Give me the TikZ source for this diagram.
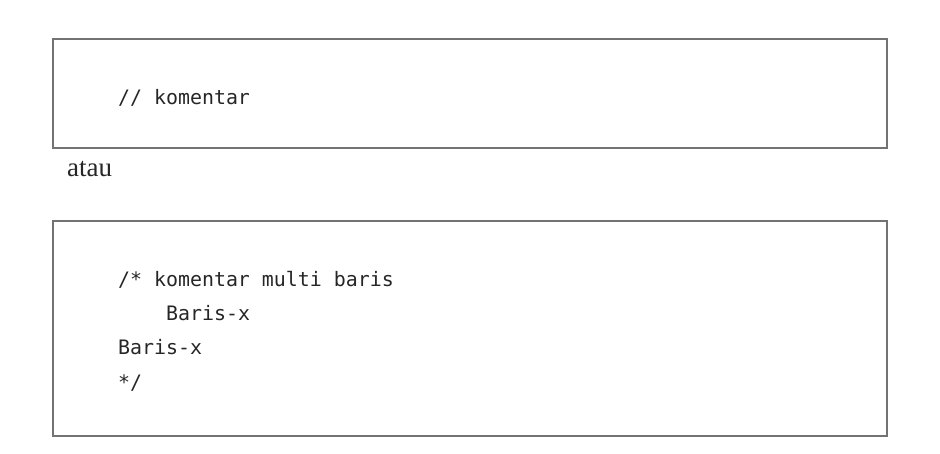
\documentclass[tikz,border=0pt]{standalone}
\usepackage{fontspec}
\setmainfont{Liberation Serif}
\newfontfamily\codefont{DejaVu Sans Mono}
\usetikzlibrary{positioning}

\begin{document}
\begin{tikzpicture}[x=1pt,y=1pt,
    codebox/.style={draw=black!55, line width=1.6pt, rectangle, inner sep=0pt, anchor=north west},
    codeline/.style={anchor=base west, inner sep=0pt, text=black!85, font=\codefont\fontsize{19.9}{24}\selectfont},
    plaintext/.style={anchor=base west, inner sep=0pt, text=black!85, font=\fontsize{27}{32}\selectfont}]
            \useasboundingbox (0,0) rectangle (940,-454);
            % single line comment
            \node[codebox, minimum width=834, minimum height=109] (onebox) at (52,-38) {};
            \node[codeline] (single) at (118,-105) {// komentar};
            % word between the two boxes
            \node[plaintext] (atau) at (67,-177) {atau};
            % multi line comment
            \node[codebox, minimum width=834, minimum height=215] (multibox) at (52,-220) {};
            \node[codeline] (lineA) at (118,-287) {/* komentar multi baris};
            \node[codeline] (lineB) at (166,-321) {Baris-x};
            \node[codeline] (lineC) at (118,-355) {Baris-x};
            \node[codeline] (lineD) at (118,-389) {*/};
        \end{tikzpicture}
\end{document}
